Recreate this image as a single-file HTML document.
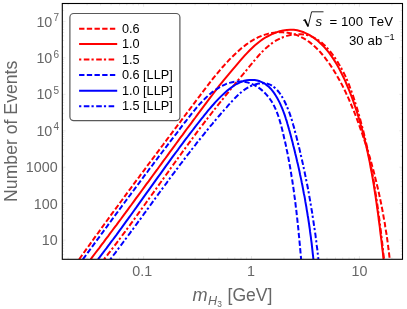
<!DOCTYPE html>
<html><head><meta charset="utf-8"><title>Number of Events vs mH3</title>
<style>
html,body{margin:0;padding:0;background:#fff;}
svg{display:block;font-kerning:none;will-change:transform;font-family:"Liberation Sans",Arial,Helvetica,sans-serif;}
</style></head>
<body>
<svg width="407" height="309" viewBox="0 0 407 309">
<rect width="407" height="309" fill="#fff"/>
<defs><clipPath id="pc"><rect x="62.3" y="3.5" width="340.2" height="255.8"/></clipPath></defs>
<g stroke="#d6d6d6" stroke-width="0.6" fill="none">
<line x1="68.1" y1="259.3" x2="68.1" y2="257.4"/>
<line x1="68.1" y1="3.5" x2="68.1" y2="5.4"/>
<line x1="87.1" y1="259.3" x2="87.1" y2="257.4"/>
<line x1="87.1" y1="3.5" x2="87.1" y2="5.4"/>
<line x1="100.6" y1="259.3" x2="100.6" y2="257.4"/>
<line x1="100.6" y1="3.5" x2="100.6" y2="5.4"/>
<line x1="111.1" y1="259.3" x2="111.1" y2="257.4"/>
<line x1="111.1" y1="3.5" x2="111.1" y2="5.4"/>
<line x1="119.6" y1="259.3" x2="119.6" y2="257.4"/>
<line x1="119.6" y1="3.5" x2="119.6" y2="5.4"/>
<line x1="126.8" y1="259.3" x2="126.8" y2="257.4"/>
<line x1="126.8" y1="3.5" x2="126.8" y2="5.4"/>
<line x1="133.1" y1="259.3" x2="133.1" y2="257.4"/>
<line x1="133.1" y1="3.5" x2="133.1" y2="5.4"/>
<line x1="138.6" y1="259.3" x2="138.6" y2="257.4"/>
<line x1="138.6" y1="3.5" x2="138.6" y2="5.4"/>
<line x1="143.6" y1="259.3" x2="143.6" y2="256.1"/>
<line x1="143.6" y1="3.5" x2="143.6" y2="6.7"/>
<line x1="176.0" y1="259.3" x2="176.0" y2="257.4"/>
<line x1="176.0" y1="3.5" x2="176.0" y2="5.4"/>
<line x1="195.1" y1="259.3" x2="195.1" y2="257.4"/>
<line x1="195.1" y1="3.5" x2="195.1" y2="5.4"/>
<line x1="208.5" y1="259.3" x2="208.5" y2="257.4"/>
<line x1="208.5" y1="3.5" x2="208.5" y2="5.4"/>
<line x1="219.0" y1="259.3" x2="219.0" y2="257.4"/>
<line x1="219.0" y1="3.5" x2="219.0" y2="5.4"/>
<line x1="227.6" y1="259.3" x2="227.6" y2="257.4"/>
<line x1="227.6" y1="3.5" x2="227.6" y2="5.4"/>
<line x1="234.8" y1="259.3" x2="234.8" y2="257.4"/>
<line x1="234.8" y1="3.5" x2="234.8" y2="5.4"/>
<line x1="241.0" y1="259.3" x2="241.0" y2="257.4"/>
<line x1="241.0" y1="3.5" x2="241.0" y2="5.4"/>
<line x1="246.6" y1="259.3" x2="246.6" y2="257.4"/>
<line x1="246.6" y1="3.5" x2="246.6" y2="5.4"/>
<line x1="251.5" y1="259.3" x2="251.5" y2="256.1"/>
<line x1="251.5" y1="3.5" x2="251.5" y2="6.7"/>
<line x1="284.0" y1="259.3" x2="284.0" y2="257.4"/>
<line x1="284.0" y1="3.5" x2="284.0" y2="5.4"/>
<line x1="303.0" y1="259.3" x2="303.0" y2="257.4"/>
<line x1="303.0" y1="3.5" x2="303.0" y2="5.4"/>
<line x1="316.5" y1="259.3" x2="316.5" y2="257.4"/>
<line x1="316.5" y1="3.5" x2="316.5" y2="5.4"/>
<line x1="327.0" y1="259.3" x2="327.0" y2="257.4"/>
<line x1="327.0" y1="3.5" x2="327.0" y2="5.4"/>
<line x1="335.5" y1="259.3" x2="335.5" y2="257.4"/>
<line x1="335.5" y1="3.5" x2="335.5" y2="5.4"/>
<line x1="342.7" y1="259.3" x2="342.7" y2="257.4"/>
<line x1="342.7" y1="3.5" x2="342.7" y2="5.4"/>
<line x1="349.0" y1="259.3" x2="349.0" y2="257.4"/>
<line x1="349.0" y1="3.5" x2="349.0" y2="5.4"/>
<line x1="354.5" y1="259.3" x2="354.5" y2="257.4"/>
<line x1="354.5" y1="3.5" x2="354.5" y2="5.4"/>
<line x1="359.4" y1="259.3" x2="359.4" y2="256.1"/>
<line x1="359.4" y1="3.5" x2="359.4" y2="6.7"/>
<line x1="391.9" y1="259.3" x2="391.9" y2="257.4"/>
<line x1="391.9" y1="3.5" x2="391.9" y2="5.4"/>
<line x1="62.3" y1="254.6" x2="64.2" y2="254.6"/>
<line x1="402.5" y1="254.6" x2="400.6" y2="254.6"/>
<line x1="62.3" y1="251.1" x2="64.2" y2="251.1"/>
<line x1="402.5" y1="251.1" x2="400.6" y2="251.1"/>
<line x1="62.3" y1="248.2" x2="64.2" y2="248.2"/>
<line x1="402.5" y1="248.2" x2="400.6" y2="248.2"/>
<line x1="62.3" y1="245.7" x2="64.2" y2="245.7"/>
<line x1="402.5" y1="245.7" x2="400.6" y2="245.7"/>
<line x1="62.3" y1="243.6" x2="64.2" y2="243.6"/>
<line x1="402.5" y1="243.6" x2="400.6" y2="243.6"/>
<line x1="62.3" y1="241.8" x2="64.2" y2="241.8"/>
<line x1="402.5" y1="241.8" x2="400.6" y2="241.8"/>
<line x1="62.3" y1="240.1" x2="65.5" y2="240.1"/>
<line x1="402.5" y1="240.1" x2="399.3" y2="240.1"/>
<line x1="62.3" y1="229.1" x2="64.2" y2="229.1"/>
<line x1="402.5" y1="229.1" x2="400.6" y2="229.1"/>
<line x1="62.3" y1="222.7" x2="64.2" y2="222.7"/>
<line x1="402.5" y1="222.7" x2="400.6" y2="222.7"/>
<line x1="62.3" y1="218.2" x2="64.2" y2="218.2"/>
<line x1="402.5" y1="218.2" x2="400.6" y2="218.2"/>
<line x1="62.3" y1="214.6" x2="64.2" y2="214.6"/>
<line x1="402.5" y1="214.6" x2="400.6" y2="214.6"/>
<line x1="62.3" y1="211.7" x2="64.2" y2="211.7"/>
<line x1="402.5" y1="211.7" x2="400.6" y2="211.7"/>
<line x1="62.3" y1="209.3" x2="64.2" y2="209.3"/>
<line x1="402.5" y1="209.3" x2="400.6" y2="209.3"/>
<line x1="62.3" y1="207.2" x2="64.2" y2="207.2"/>
<line x1="402.5" y1="207.2" x2="400.6" y2="207.2"/>
<line x1="62.3" y1="205.3" x2="64.2" y2="205.3"/>
<line x1="402.5" y1="205.3" x2="400.6" y2="205.3"/>
<line x1="62.3" y1="203.6" x2="65.5" y2="203.6"/>
<line x1="402.5" y1="203.6" x2="399.3" y2="203.6"/>
<line x1="62.3" y1="192.7" x2="64.2" y2="192.7"/>
<line x1="402.5" y1="192.7" x2="400.6" y2="192.7"/>
<line x1="62.3" y1="186.3" x2="64.2" y2="186.3"/>
<line x1="402.5" y1="186.3" x2="400.6" y2="186.3"/>
<line x1="62.3" y1="181.7" x2="64.2" y2="181.7"/>
<line x1="402.5" y1="181.7" x2="400.6" y2="181.7"/>
<line x1="62.3" y1="178.2" x2="64.2" y2="178.2"/>
<line x1="402.5" y1="178.2" x2="400.6" y2="178.2"/>
<line x1="62.3" y1="175.3" x2="64.2" y2="175.3"/>
<line x1="402.5" y1="175.3" x2="400.6" y2="175.3"/>
<line x1="62.3" y1="172.8" x2="64.2" y2="172.8"/>
<line x1="402.5" y1="172.8" x2="400.6" y2="172.8"/>
<line x1="62.3" y1="170.7" x2="64.2" y2="170.7"/>
<line x1="402.5" y1="170.7" x2="400.6" y2="170.7"/>
<line x1="62.3" y1="168.9" x2="64.2" y2="168.9"/>
<line x1="402.5" y1="168.9" x2="400.6" y2="168.9"/>
<line x1="62.3" y1="167.2" x2="65.5" y2="167.2"/>
<line x1="402.5" y1="167.2" x2="399.3" y2="167.2"/>
<line x1="62.3" y1="156.2" x2="64.2" y2="156.2"/>
<line x1="402.5" y1="156.2" x2="400.6" y2="156.2"/>
<line x1="62.3" y1="149.8" x2="64.2" y2="149.8"/>
<line x1="402.5" y1="149.8" x2="400.6" y2="149.8"/>
<line x1="62.3" y1="145.3" x2="64.2" y2="145.3"/>
<line x1="402.5" y1="145.3" x2="400.6" y2="145.3"/>
<line x1="62.3" y1="141.7" x2="64.2" y2="141.7"/>
<line x1="402.5" y1="141.7" x2="400.6" y2="141.7"/>
<line x1="62.3" y1="138.8" x2="64.2" y2="138.8"/>
<line x1="402.5" y1="138.8" x2="400.6" y2="138.8"/>
<line x1="62.3" y1="136.4" x2="64.2" y2="136.4"/>
<line x1="402.5" y1="136.4" x2="400.6" y2="136.4"/>
<line x1="62.3" y1="134.3" x2="64.2" y2="134.3"/>
<line x1="402.5" y1="134.3" x2="400.6" y2="134.3"/>
<line x1="62.3" y1="132.4" x2="64.2" y2="132.4"/>
<line x1="402.5" y1="132.4" x2="400.6" y2="132.4"/>
<line x1="62.3" y1="130.8" x2="65.5" y2="130.8"/>
<line x1="402.5" y1="130.8" x2="399.3" y2="130.8"/>
<line x1="62.3" y1="119.8" x2="64.2" y2="119.8"/>
<line x1="402.5" y1="119.8" x2="400.6" y2="119.8"/>
<line x1="62.3" y1="113.4" x2="64.2" y2="113.4"/>
<line x1="402.5" y1="113.4" x2="400.6" y2="113.4"/>
<line x1="62.3" y1="108.8" x2="64.2" y2="108.8"/>
<line x1="402.5" y1="108.8" x2="400.6" y2="108.8"/>
<line x1="62.3" y1="105.3" x2="64.2" y2="105.3"/>
<line x1="402.5" y1="105.3" x2="400.6" y2="105.3"/>
<line x1="62.3" y1="102.4" x2="64.2" y2="102.4"/>
<line x1="402.5" y1="102.4" x2="400.6" y2="102.4"/>
<line x1="62.3" y1="99.9" x2="64.2" y2="99.9"/>
<line x1="402.5" y1="99.9" x2="400.6" y2="99.9"/>
<line x1="62.3" y1="97.8" x2="64.2" y2="97.8"/>
<line x1="402.5" y1="97.8" x2="400.6" y2="97.8"/>
<line x1="62.3" y1="96.0" x2="64.2" y2="96.0"/>
<line x1="402.5" y1="96.0" x2="400.6" y2="96.0"/>
<line x1="62.3" y1="94.3" x2="65.5" y2="94.3"/>
<line x1="402.5" y1="94.3" x2="399.3" y2="94.3"/>
<line x1="62.3" y1="83.3" x2="64.2" y2="83.3"/>
<line x1="402.5" y1="83.3" x2="400.6" y2="83.3"/>
<line x1="62.3" y1="76.9" x2="64.2" y2="76.9"/>
<line x1="402.5" y1="76.9" x2="400.6" y2="76.9"/>
<line x1="62.3" y1="72.4" x2="64.2" y2="72.4"/>
<line x1="402.5" y1="72.4" x2="400.6" y2="72.4"/>
<line x1="62.3" y1="68.8" x2="64.2" y2="68.8"/>
<line x1="402.5" y1="68.8" x2="400.6" y2="68.8"/>
<line x1="62.3" y1="65.9" x2="64.2" y2="65.9"/>
<line x1="402.5" y1="65.9" x2="400.6" y2="65.9"/>
<line x1="62.3" y1="63.5" x2="64.2" y2="63.5"/>
<line x1="402.5" y1="63.5" x2="400.6" y2="63.5"/>
<line x1="62.3" y1="61.4" x2="64.2" y2="61.4"/>
<line x1="402.5" y1="61.4" x2="400.6" y2="61.4"/>
<line x1="62.3" y1="59.5" x2="64.2" y2="59.5"/>
<line x1="402.5" y1="59.5" x2="400.6" y2="59.5"/>
<line x1="62.3" y1="57.8" x2="65.5" y2="57.8"/>
<line x1="402.5" y1="57.8" x2="399.3" y2="57.8"/>
<line x1="62.3" y1="46.9" x2="64.2" y2="46.9"/>
<line x1="402.5" y1="46.9" x2="400.6" y2="46.9"/>
<line x1="62.3" y1="40.5" x2="64.2" y2="40.5"/>
<line x1="402.5" y1="40.5" x2="400.6" y2="40.5"/>
<line x1="62.3" y1="35.9" x2="64.2" y2="35.9"/>
<line x1="402.5" y1="35.9" x2="400.6" y2="35.9"/>
<line x1="62.3" y1="32.4" x2="64.2" y2="32.4"/>
<line x1="402.5" y1="32.4" x2="400.6" y2="32.4"/>
<line x1="62.3" y1="29.5" x2="64.2" y2="29.5"/>
<line x1="402.5" y1="29.5" x2="400.6" y2="29.5"/>
<line x1="62.3" y1="27.0" x2="64.2" y2="27.0"/>
<line x1="402.5" y1="27.0" x2="400.6" y2="27.0"/>
<line x1="62.3" y1="24.9" x2="64.2" y2="24.9"/>
<line x1="402.5" y1="24.9" x2="400.6" y2="24.9"/>
<line x1="62.3" y1="23.1" x2="64.2" y2="23.1"/>
<line x1="402.5" y1="23.1" x2="400.6" y2="23.1"/>
<line x1="62.3" y1="21.4" x2="65.5" y2="21.4"/>
<line x1="402.5" y1="21.4" x2="399.3" y2="21.4"/>
<line x1="62.3" y1="10.4" x2="64.2" y2="10.4"/>
<line x1="402.5" y1="10.4" x2="400.6" y2="10.4"/>
</g>
<g clip-path="url(#pc)" fill="none" stroke-width="2" stroke-linejoin="round">
<path d="M79.2,259.3 L81.3,256.3 L83.4,253.4 L85.5,250.4 L87.6,247.5 L89.7,244.6 L91.8,241.6 L93.9,238.7 L96.0,235.7 L98.2,232.8 L100.3,229.9 L102.4,226.9 L104.5,224.0 L106.7,221.0 L108.8,218.1 L110.9,215.2 L113.1,212.2 L115.2,209.3 L117.4,206.4 L119.5,203.4 L121.7,200.5 L123.8,197.6 L126.0,194.6 L128.1,191.7 L130.3,188.8 L132.5,185.9 L134.6,182.9 L136.8,180.0 L139.0,177.1 L141.1,174.2 L143.3,171.3 L145.5,168.3 L147.6,165.4 L149.8,162.5 L152.0,159.6 L154.2,156.7 L156.3,153.8 L158.5,150.8 L160.7,147.9 L162.9,145.0 L165.0,142.1 L167.2,139.2 L169.4,136.3 L171.6,133.4 L173.7,130.5 L175.9,127.6 L178.1,124.7 L180.3,121.8 L182.4,118.9 L184.6,116.0 L186.8,113.1 L188.9,110.3 L191.1,107.4 L193.3,104.5 L195.4,101.6 L197.6,98.7 L199.8,95.8 L201.9,92.9 L204.1,90.1 L206.3,87.2 L208.5,84.4 L210.7,81.5 L212.9,78.7 L215.2,75.9 L217.5,73.1 L219.8,70.3 L222.2,67.5 L224.6,64.8 L227.1,62.1 L229.6,59.4 L232.2,56.8 L234.9,54.2 L237.6,51.7 L240.3,49.2 L243.2,46.9 L246.1,44.6 L249.0,42.5 L252.1,40.6 L255.2,38.8 L258.4,37.2 L261.7,35.8 L265.1,34.6 L268.6,33.6 L272.1,32.9 L275.7,32.5 L279.3,32.3 L282.9,32.3 L286.5,32.6 L290.1,33.2 L293.5,34.0 L296.9,35.1 L300.1,36.5 L303.2,38.1 L306.3,39.9 L309.2,41.9 L312.0,44.1 L314.7,46.5 L317.3,49.0 L319.9,51.7 L322.3,54.5 L324.7,57.3 L326.9,60.3 L329.1,63.3 L331.2,66.4 L333.2,69.5 L335.2,72.7 L337.0,75.8 L338.8,79.0 L340.6,82.2 L342.3,85.4 L343.9,88.6 L345.5,91.9 L347.0,95.2 L348.5,98.4 L349.9,101.7 L351.3,105.0 L352.7,108.4 L354.1,111.7 L355.4,115.0 L356.7,118.4 L358.0,121.8 L359.2,125.2 L360.4,128.6 L361.6,132.0 L362.8,135.4 L363.9,138.8 L365.1,142.3 L366.2,145.7 L367.3,149.2 L368.3,152.6 L369.4,156.1 L370.4,159.6 L371.4,163.1 L372.3,166.6 L373.3,170.1 L374.2,173.6 L375.1,177.2 L376.0,180.7 L376.8,184.2 L377.7,187.8 L378.5,191.3 L379.3,194.9 L380.0,198.4 L380.8,202.0 L381.5,205.5 L382.2,209.1 L382.9,212.7 L383.5,216.3 L384.1,219.8 L384.8,223.4 L385.3,227.0 L385.9,230.6 L386.5,234.1 L387.0,237.7 L387.5,241.3 L388.0,244.9 L388.4,248.5 L388.9,252.1 L389.3,255.6 L389.7,259.2" stroke="#ff0000" stroke-dasharray="5.35 2.35"/>
<path d="M90.7,259.3 L92.8,256.4 L95.0,253.5 L97.2,250.7 L99.4,247.8 L101.5,244.9 L103.7,242.1 L105.8,239.2 L108.0,236.3 L110.1,233.4 L112.3,230.5 L114.4,227.7 L116.6,224.8 L118.7,221.9 L120.9,219.0 L123.0,216.1 L125.2,213.2 L127.3,210.3 L129.4,207.4 L131.6,204.5 L133.7,201.6 L135.8,198.7 L137.9,195.8 L140.1,192.9 L142.2,190.0 L144.3,187.1 L146.4,184.2 L148.6,181.3 L150.7,178.4 L152.8,175.5 L154.9,172.6 L157.1,169.7 L159.2,166.7 L161.3,163.8 L163.4,160.9 L165.6,158.0 L167.7,155.1 L169.8,152.2 L171.9,149.3 L174.1,146.4 L176.2,143.5 L178.3,140.6 L180.4,137.7 L182.6,134.8 L184.7,131.9 L186.8,129.0 L189.0,126.1 L191.1,123.3 L193.2,120.4 L195.4,117.5 L197.5,114.6 L199.7,111.7 L201.8,108.8 L204.0,105.9 L206.1,103.1 L208.3,100.2 L210.4,97.3 L212.6,94.5 L214.7,91.6 L216.9,88.8 L219.1,85.9 L221.4,83.1 L223.6,80.3 L225.9,77.6 L228.2,74.8 L230.5,72.1 L232.8,69.4 L235.2,66.6 L237.5,63.9 L239.8,61.2 L242.2,58.4 L244.6,55.7 L247.0,53.1 L249.5,50.5 L252.1,48.0 L254.7,45.5 L257.5,43.2 L260.3,41.0 L263.2,38.9 L266.3,37.0 L269.6,35.3 L272.9,33.7 L276.3,32.4 L279.7,31.3 L283.2,30.5 L286.8,29.9 L290.3,29.7 L293.8,29.8 L297.2,30.3 L300.6,31.2 L303.9,32.3 L307.1,33.8 L310.3,35.5 L313.3,37.5 L316.2,39.6 L319.0,42.0 L321.7,44.5 L324.3,47.1 L326.7,49.9 L329.0,52.7 L331.1,55.6 L333.2,58.6 L335.1,61.6 L337.0,64.7 L338.7,67.9 L340.4,71.0 L342.0,74.2 L343.6,77.5 L345.1,80.7 L346.5,84.0 L347.9,87.3 L349.3,90.7 L350.6,94.0 L351.9,97.4 L353.1,100.7 L354.3,104.1 L355.4,107.5 L356.6,110.9 L357.7,114.4 L358.7,117.8 L359.7,121.2 L360.7,124.7 L361.7,128.1 L362.6,131.6 L363.5,135.1 L364.4,138.5 L365.3,142.0 L366.1,145.5 L366.9,149.0 L367.7,152.6 L368.4,156.1 L369.2,159.6 L369.9,163.1 L370.5,166.7 L371.2,170.2 L371.9,173.7 L372.5,177.3 L373.1,180.8 L373.7,184.4 L374.3,188.0 L374.8,191.5 L375.4,195.1 L375.9,198.6 L376.4,202.2 L376.9,205.8 L377.4,209.4 L377.9,212.9 L378.4,216.5 L378.8,220.1 L379.3,223.6 L379.8,227.2 L380.2,230.8 L380.6,234.3 L381.1,237.9 L381.5,241.5 L381.9,245.0 L382.3,248.6 L382.8,252.2 L383.2,255.7 L383.6,259.3" stroke="#ff0000"/>
<path d="M104.1,259.2 L106.3,256.5 L108.4,253.7 L110.5,251.0 L112.7,248.2 L114.8,245.4 L116.9,242.6 L119.0,239.8 L121.1,237.0 L123.2,234.2 L125.3,231.4 L127.3,228.6 L129.4,225.8 L131.5,222.9 L133.6,220.1 L135.6,217.3 L137.7,214.4 L139.7,211.6 L141.8,208.7 L143.8,205.9 L145.9,203.0 L147.9,200.2 L150.0,197.3 L152.0,194.5 L154.1,191.6 L156.1,188.8 L158.1,185.9 L160.2,183.0 L162.2,180.2 L164.3,177.3 L166.3,174.5 L168.4,171.6 L170.4,168.7 L172.4,165.9 L174.5,163.0 L176.5,160.2 L178.6,157.4 L180.7,154.5 L182.7,151.7 L184.8,148.8 L186.8,146.0 L188.9,143.2 L191.0,140.4 L193.1,137.5 L195.2,134.7 L197.2,131.9 L199.3,129.1 L201.4,126.4 L203.5,123.6 L205.7,120.8 L207.8,118.0 L209.9,115.3 L212.1,112.5 L214.2,109.8 L216.4,107.0 L218.5,104.3 L220.7,101.6 L222.9,98.9 L225.0,96.2 L227.2,93.5 L229.4,90.8 L231.6,88.1 L233.9,85.4 L236.1,82.7 L238.3,80.0 L240.5,77.3 L242.8,74.6 L245.0,71.9 L247.3,69.2 L249.5,66.4 L251.8,63.7 L254.1,60.9 L256.4,58.2 L258.7,55.5 L261.1,52.9 L263.6,50.4 L266.1,48.0 L268.8,45.7 L271.5,43.6 L274.3,41.6 L277.3,39.9 L280.4,38.3 L283.6,37.0 L287.0,35.9 L290.4,35.0 L293.9,34.5 L297.4,34.2 L300.8,34.2 L304.3,34.5 L307.6,35.2 L310.8,36.2 L313.9,37.6 L316.9,39.3 L319.8,41.2 L322.5,43.4 L325.1,45.8 L327.5,48.4 L329.9,51.1 L332.2,54.0 L334.3,56.9 L336.3,59.9 L338.2,62.9 L340.0,65.9 L341.7,68.9 L343.3,72.0 L344.9,75.1 L346.3,78.3 L347.7,81.5 L349.0,84.7 L350.2,88.0 L351.4,91.2 L352.6,94.5 L353.7,97.8 L354.8,101.2 L355.8,104.5 L356.9,107.8 L357.9,111.2 L358.8,114.5 L359.8,117.9 L360.7,121.3 L361.6,124.7 L362.5,128.0 L363.4,131.4 L364.2,134.8 L365.0,138.2 L365.8,141.6 L366.6,145.0 L367.4,148.5 L368.1,151.9 L368.8,155.3 L369.5,158.8 L370.2,162.2 L370.9,165.6 L371.5,169.1 L372.2,172.5 L372.8,176.0 L373.4,179.4 L374.0,182.9 L374.5,186.4 L375.1,189.8 L375.6,193.3 L376.2,196.8 L376.7,200.2 L377.2,203.7 L377.7,207.2 L378.2,210.7 L378.6,214.1 L379.1,217.6 L379.6,221.1 L380.0,224.6 L380.4,228.0 L380.9,231.5 L381.3,235.0 L381.7,238.5 L382.1,241.9 L382.5,245.4 L382.9,248.9 L383.2,252.3 L383.6,255.8 L384.0,259.3" stroke="#ff0000" stroke-dasharray="2.2 2.5 5.6 2.1"/>
<path d="M82.9,259.3 L84.5,257.1 L86.2,254.8 L87.8,252.6 L89.5,250.3 L91.1,248.1 L92.8,245.8 L94.4,243.6 L96.1,241.3 L97.7,239.1 L99.4,236.8 L101.0,234.6 L102.7,232.3 L104.3,230.1 L106.0,227.8 L107.6,225.6 L109.2,223.3 L110.9,221.1 L112.5,218.9 L114.2,216.6 L115.8,214.4 L117.5,212.1 L119.1,209.9 L120.8,207.7 L122.4,205.4 L124.1,203.2 L125.7,201.0 L127.4,198.7 L129.0,196.5 L130.7,194.3 L132.3,192.0 L134.0,189.8 L135.6,187.6 L137.3,185.3 L139.0,183.1 L140.6,180.9 L142.3,178.7 L143.9,176.4 L145.6,174.2 L147.3,172.0 L148.9,169.7 L150.6,167.5 L152.3,165.3 L153.9,163.1 L155.6,160.9 L157.3,158.6 L158.9,156.4 L160.6,154.2 L162.3,152.0 L164.0,149.8 L165.6,147.6 L167.3,145.3 L169.0,143.1 L170.7,140.9 L172.4,138.7 L174.1,136.5 L175.8,134.3 L177.5,132.1 L179.1,129.9 L180.8,127.6 L182.5,125.4 L184.2,123.2 L186.0,121.0 L187.7,118.8 L189.4,116.6 L191.1,114.4 L192.8,112.2 L194.6,110.1 L196.4,107.9 L198.2,105.8 L200.0,103.7 L201.9,101.7 L203.9,99.6 L205.9,97.7 L208.0,95.8 L210.1,93.9 L212.3,92.1 L214.6,90.4 L217.0,88.8 L219.4,87.3 L221.8,86.0 L224.4,84.8 L226.9,83.7 L229.5,82.9 L232.2,82.2 L234.9,81.7 L237.6,81.5 L240.3,81.4 L243.0,81.6 L245.6,82.0 L248.2,82.6 L250.8,83.5 L253.3,84.6 L255.7,85.8 L258.0,87.3 L260.3,88.9 L262.4,90.6 L264.4,92.5 L266.4,94.6 L268.2,96.7 L269.9,99.0 L271.5,101.3 L272.9,103.7 L274.2,106.1 L275.4,108.7 L276.5,111.2 L277.5,113.8 L278.5,116.5 L279.3,119.2 L280.1,121.9 L280.9,124.6 L281.6,127.3 L282.3,130.0 L283.0,132.8 L283.6,135.5 L284.2,138.2 L284.9,141.0 L285.5,143.7 L286.1,146.4 L286.6,149.2 L287.2,151.9 L287.8,154.6 L288.3,157.4 L288.8,160.1 L289.3,162.8 L289.8,165.6 L290.3,168.3 L290.7,171.0 L291.2,173.8 L291.6,176.5 L292.1,179.2 L292.5,182.0 L292.9,184.7 L293.3,187.4 L293.7,190.2 L294.1,192.9 L294.4,195.7 L294.8,198.4 L295.2,201.1 L295.5,203.9 L295.8,206.6 L296.2,209.4 L296.5,212.1 L296.8,214.9 L297.1,217.7 L297.4,220.4 L297.7,223.2 L298.0,225.9 L298.3,228.7 L298.6,231.5 L298.8,234.3 L299.1,237.0 L299.4,239.8 L299.6,242.6 L299.9,245.4 L300.1,248.2 L300.4,251.0 L300.6,253.8 L300.9,256.6 L301.1,259.4" stroke="#0000ff" stroke-dasharray="5.35 2.35"/>
<path d="M98.0,259.2 L99.7,257.1 L101.4,254.9 L103.1,252.7 L104.7,250.5 L106.4,248.3 L108.0,246.1 L109.7,243.9 L111.3,241.7 L113.0,239.5 L114.6,237.3 L116.3,235.1 L117.9,232.9 L119.5,230.6 L121.2,228.4 L122.8,226.2 L124.4,223.9 L126.0,221.7 L127.7,219.4 L129.3,217.2 L130.9,215.0 L132.5,212.7 L134.1,210.5 L135.8,208.2 L137.4,205.9 L139.0,203.7 L140.6,201.4 L142.2,199.2 L143.8,196.9 L145.4,194.7 L147.0,192.4 L148.7,190.1 L150.3,187.9 L151.9,185.6 L153.5,183.4 L155.1,181.1 L156.7,178.9 L158.3,176.6 L160.0,174.4 L161.6,172.1 L163.2,169.9 L164.8,167.6 L166.4,165.4 L168.1,163.1 L169.7,160.9 L171.3,158.7 L172.9,156.4 L174.6,154.2 L176.2,152.0 L177.9,149.8 L179.5,147.5 L181.1,145.3 L182.8,143.1 L184.4,140.9 L186.1,138.7 L187.8,136.5 L189.4,134.3 L191.1,132.2 L192.8,130.0 L194.4,127.8 L196.1,125.7 L197.8,123.5 L199.5,121.3 L201.2,119.2 L202.9,117.1 L204.6,114.9 L206.3,112.8 L208.0,110.7 L209.8,108.6 L211.6,106.5 L213.4,104.5 L215.2,102.4 L217.1,100.4 L219.0,98.4 L221.0,96.4 L223.1,94.4 L225.2,92.5 L227.3,90.6 L229.6,88.8 L231.9,87.1 L234.2,85.5 L236.6,84.0 L239.1,82.8 L241.6,81.7 L244.2,80.8 L246.8,80.3 L249.4,79.9 L252.1,79.9 L254.7,80.1 L257.3,80.5 L259.9,81.3 L262.3,82.3 L264.6,83.5 L266.7,85.1 L268.8,86.8 L270.7,88.7 L272.5,90.9 L274.2,93.1 L275.7,95.5 L277.2,98.0 L278.6,100.6 L279.9,103.1 L281.0,105.7 L282.2,108.3 L283.2,111.0 L284.2,113.6 L285.1,116.2 L285.9,118.8 L286.8,121.4 L287.5,124.0 L288.3,126.7 L289.0,129.3 L289.8,131.9 L290.5,134.6 L291.2,137.2 L291.9,139.9 L292.6,142.5 L293.2,145.2 L293.9,147.8 L294.6,150.5 L295.2,153.2 L295.9,155.9 L296.5,158.5 L297.1,161.2 L297.8,163.9 L298.4,166.6 L299.0,169.3 L299.6,172.0 L300.1,174.7 L300.7,177.4 L301.3,180.1 L301.8,182.8 L302.4,185.5 L302.9,188.3 L303.4,191.0 L303.9,193.7 L304.5,196.4 L305.0,199.1 L305.4,201.9 L305.9,204.6 L306.4,207.3 L306.8,210.1 L307.3,212.8 L307.7,215.5 L308.2,218.3 L308.6,221.0 L309.0,223.7 L309.4,226.5 L309.8,229.2 L310.1,231.9 L310.5,234.7 L310.9,237.4 L311.2,240.1 L311.6,242.9 L311.9,245.6 L312.2,248.3 L312.5,251.1 L312.8,253.8 L313.1,256.5 L313.4,259.3" stroke="#0000ff"/>
<path d="M110.3,259.3 L112.0,257.1 L113.6,255.0 L115.3,252.8 L116.9,250.7 L118.5,248.5 L120.2,246.3 L121.8,244.2 L123.4,242.0 L125.0,239.8 L126.6,237.6 L128.2,235.5 L129.8,233.3 L131.4,231.1 L133.0,229.0 L134.6,226.8 L136.2,224.6 L137.8,222.4 L139.4,220.3 L141.0,218.1 L142.6,215.9 L144.1,213.7 L145.7,211.6 L147.3,209.4 L148.9,207.2 L150.5,205.0 L152.0,202.9 L153.6,200.7 L155.2,198.5 L156.8,196.4 L158.3,194.2 L159.9,192.0 L161.5,189.9 L163.1,187.7 L164.7,185.5 L166.3,183.4 L167.8,181.2 L169.4,179.0 L171.0,176.9 L172.6,174.7 L174.2,172.6 L175.8,170.4 L177.4,168.3 L179.0,166.1 L180.6,164.0 L182.3,161.8 L183.9,159.7 L185.5,157.6 L187.1,155.4 L188.8,153.3 L190.4,151.2 L192.1,149.0 L193.7,146.9 L195.4,144.8 L197.0,142.7 L198.7,140.6 L200.4,138.5 L202.1,136.4 L203.8,134.3 L205.5,132.2 L207.2,130.1 L208.9,128.0 L210.6,125.9 L212.4,123.8 L214.1,121.7 L215.9,119.6 L217.6,117.6 L219.4,115.5 L221.2,113.4 L223.0,111.4 L224.8,109.3 L226.6,107.3 L228.4,105.2 L230.2,103.2 L232.1,101.2 L233.9,99.2 L235.8,97.2 L237.8,95.3 L239.8,93.5 L241.8,91.7 L243.9,90.1 L246.1,88.6 L248.4,87.2 L250.8,86.0 L253.3,85.0 L255.9,84.2 L258.6,83.6 L261.2,83.2 L263.9,83.2 L266.4,83.5 L268.8,84.1 L271.1,85.1 L273.2,86.5 L275.2,88.1 L277.0,89.9 L278.8,92.0 L280.4,94.2 L281.9,96.6 L283.3,99.0 L284.6,101.5 L285.8,104.0 L286.9,106.6 L288.0,109.1 L289.0,111.6 L289.9,114.2 L290.8,116.8 L291.6,119.3 L292.4,121.9 L293.1,124.5 L293.9,127.1 L294.6,129.7 L295.2,132.3 L295.9,134.8 L296.6,137.4 L297.2,140.1 L297.9,142.7 L298.5,145.3 L299.2,147.9 L299.8,150.5 L300.4,153.1 L301.0,155.7 L301.6,158.4 L302.2,161.0 L302.8,163.6 L303.4,166.2 L303.9,168.9 L304.5,171.5 L305.0,174.1 L305.6,176.8 L306.1,179.4 L306.6,182.1 L307.2,184.7 L307.7,187.3 L308.2,190.0 L308.7,192.6 L309.1,195.3 L309.6,197.9 L310.1,200.6 L310.5,203.3 L311.0,205.9 L311.4,208.6 L311.9,211.2 L312.3,213.9 L312.7,216.6 L313.1,219.2 L313.5,221.9 L313.9,224.6 L314.3,227.2 L314.7,229.9 L315.1,232.6 L315.5,235.2 L315.8,237.9 L316.2,240.6 L316.5,243.3 L316.8,245.9 L317.2,248.6 L317.5,251.3 L317.8,254.0 L318.1,256.6 L318.4,259.3" stroke="#0000ff" stroke-dasharray="2.2 2.5 5.6 2.1"/>
</g>
<rect x="62.3" y="3.5" width="340.2" height="255.8" fill="none" stroke="#000" stroke-width="1.1"/>
<rect x="69.9" y="13.5" width="110" height="107.1" rx="3.8" ry="3.8" fill="#fff" stroke="#595959" stroke-width="1.2"/>
<g font-size="12.7" fill="#000">
<line x1="79.1" y1="28.7" x2="117.2" y2="28.7" stroke="#ff0000" stroke-width="2" stroke-dasharray="5.35 2.35"/>
<text x="121.9" y="32.6">0.6</text>
<line x1="79.1" y1="44.0" x2="117.2" y2="44.0" stroke="#ff0000" stroke-width="2"/>
<text x="121.9" y="47.9">1.0</text>
<line x1="79.1" y1="59.6" x2="115.2" y2="59.6" stroke="#ff0000" stroke-width="2" stroke-dasharray="2.2 2.5 5.6 2.1"/>
<text x="121.9" y="63.5">1.5</text>
<line x1="79.1" y1="75.1" x2="117.2" y2="75.1" stroke="#0000ff" stroke-width="2" stroke-dasharray="5.35 2.35"/>
<text x="121.9" y="79.0">0.6 [LLP]</text>
<line x1="79.1" y1="90.7" x2="117.2" y2="90.7" stroke="#0000ff" stroke-width="2"/>
<text x="121.9" y="94.6">1.0 [LLP]</text>
<line x1="79.1" y1="106.2" x2="115.2" y2="106.2" stroke="#0000ff" stroke-width="2" stroke-dasharray="2.2 2.5 5.6 2.1"/>
<text x="121.9" y="110.1">1.5 [LLP]</text>
</g>
<g font-size="14.3" fill="#666666">
<text x="57.6" y="245.2" text-anchor="end">10</text>
<text x="57.6" y="208.7" text-anchor="end">100</text>
<text x="57.6" y="172.3" text-anchor="end">1000</text>
<text x="52.3" y="135.8" text-anchor="end">10</text><text x="53.6" y="130.4" font-size="10">4</text>
<text x="52.3" y="99.4" text-anchor="end">10</text><text x="53.6" y="94.0" font-size="10">5</text>
<text x="52.3" y="62.9" text-anchor="end">10</text><text x="53.6" y="57.5" font-size="10">6</text>
<text x="52.3" y="26.5" text-anchor="end">10</text><text x="53.6" y="21.1" font-size="10">7</text>
<text x="142.2" y="276" text-anchor="middle">0.1</text>
<text x="250.9" y="276" text-anchor="middle">1</text>
<text x="359.4" y="276" text-anchor="middle">10</text>
</g>
<text transform="translate(17.3,131.3) rotate(-90)" text-anchor="middle" font-size="17.65" fill="#666666">Number of Events</text>
<g fill="#666666" font-size="17.3">
<text x="192.6" y="300.7" font-size="18.1" font-style="italic">m</text>
<text x="207.9" y="304.8" font-size="12.6" font-style="italic">H</text>
<text x="217.2" y="306.9" font-size="8.4">3</text>
<text x="227.5" y="300.7" font-size="17.6">[GeV]</text>
</g>
<g fill="#000" font-size="13.2">
<path d="M303,20.6 L304.9,19.6" fill="none" stroke="#000" stroke-width="0.8"/><path d="M304.7,19.5 L308.1,26.4" fill="none" stroke="#000" stroke-width="1.7"/><path d="M308,26.8 L311.6,11.8 L323.5,11.8" fill="none" stroke="#000" stroke-width="0.85"/>
<text x="315.6" y="26" font-style="italic">s</text>
<text x="329.6" y="26">=</text>
<text x="393.2" y="26" text-anchor="end" word-spacing="1.6" letter-spacing="0.12">100 TeV</text>
<text x="348.9" y="45" letter-spacing="0.1">30 ab</text>
<text x="384.2" y="39.8" font-size="9.2">−1</text>
</g>
</svg>
</body></html>
